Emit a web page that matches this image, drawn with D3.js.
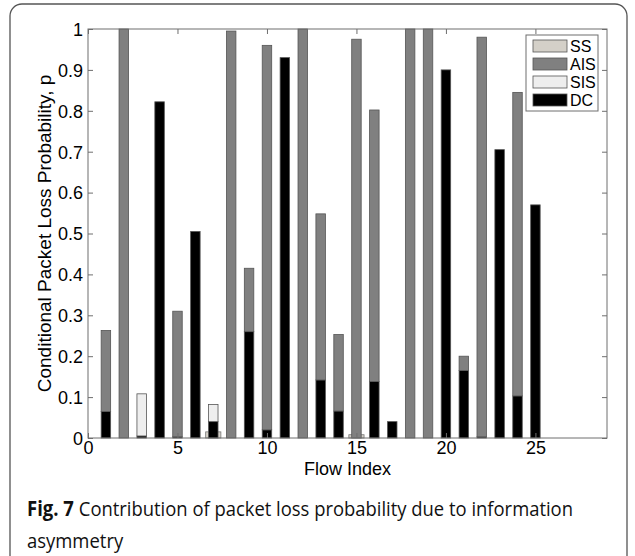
<!DOCTYPE html>
<html><head><meta charset="utf-8">
<script src="https://cdn.jsdelivr.net/npm/d3@7"></script>
<style>body{margin:0;background:#fff}svg{display:block}</style>
</head><body>
<svg id="c" width="635" height="556"></svg>
<script>
const flows = d3.range(1, 26);
const ss  = [0,0,0,0,0,0,0.015,0,0,0,0,0,0,0,0.008,0,0,0,0,0,0,0,0,0,0];
const dc  = [0.065,0,0.005,0.822,0.003,0.505,0.04,0,0.26,0.02,0.93,0,0.142,0.066,0,0.138,0.04,0,0,0.9,0.165,0.003,0.705,0.103,0.57];
const sis = [0,0,0.103,0,0,0,0.042,0,0,0,0,0,0,0,0,0,0,0,0,0,0,0,0,0,0];
const ais = [0.198,1.0,0,0,0.307,0,0,0.995,0.155,0.94,0,1.0,0.406,0.187,0.975,0.664,0,1.0,1.0,0,0.035,0.977,0,0.742,0];
const xTicks = [0,5,10,15,20,25];
const yTicks = [0,0.1,0.2,0.3,0.4,0.5,0.6,0.7,0.8,0.9,1];
const legendNames = ["SS","AIS","SIS","DC"];
const colors = {SS:"#d4d0c8", AIS:"#808080", SIS:"#eeeeee", DC:"#000000"};

const svg = d3.select("#c");
const L = 88, R = 607, T = 29, B = 438;
const x = d3.scaleLinear().domain([0,29]).range([L,R]);
const y = d3.scaleLinear().domain([0,1]).range([B,T]);
const axisCol = "#6e6e6e";
const font = "'Liberation Sans', Arial, sans-serif";

// frame
svg.append("rect").attr("x",10).attr("y",4).attr("width",617).attr("height",570)
  .attr("rx",12).attr("fill","none").attr("stroke","#555").attr("stroke-width",1.3);

const g = svg.append("g");
const unit = x(1)-x(0);
const bw = 0.53*unit, sw = 0.85*unit;

// SS wide bars behind
g.selectAll(".ss").data(flows.filter((f,i)=>ss[i]>0)).join("rect")
  .attr("x",f=>x(f)-sw/2).attr("width",sw)
  .attr("y",f=>y(ss[f-1])).attr("height",f=>y(0)-y(ss[f-1]))
  .attr("fill",colors.SS).attr("stroke","#777").attr("stroke-width",0.8);

const stackData = flows.map((f,i)=>({f, DC:dc[i], SIS:sis[i], AIS:ais[i]}));
const stack = d3.stack().keys(["DC","SIS","AIS"])(stackData);
stack.forEach(layer=>{
  g.selectAll(null).data(layer.filter(d=>d[1]-d[0]>0)).join("rect")
    .attr("x",d=>x(d.data.f)-bw/2).attr("width",bw)
    .attr("y",d=>y(d[1])).attr("height",d=>y(d[0])-y(d[1]))
    .attr("fill",colors[layer.key]).attr("stroke","#555").attr("stroke-width",0.8);
});

// axes box
svg.append("rect").attr("x",L).attr("y",T).attr("width",R-L).attr("height",B-T)
  .attr("fill","none").attr("stroke",axisCol).attr("stroke-width",1);

const tl = 5;
const xb = svg.append("g").attr("transform",`translate(0,${B})`)
  .call(d3.axisBottom(x).tickValues(xTicks).tickSize(-tl).tickFormat(d3.format("d")));
const xt = svg.append("g").attr("transform",`translate(0,${T})`)
  .call(d3.axisTop(x).tickValues(xTicks).tickSize(-tl).tickFormat(""));
const yl = svg.append("g").attr("transform",`translate(${L},0)`)
  .call(d3.axisLeft(y).tickValues(yTicks).tickSize(-tl).tickFormat(d=>d===0?"0":d===1?"1":d3.format(".1f")(d)));
const yr = svg.append("g").attr("transform",`translate(${R},0)`)
  .call(d3.axisRight(y).tickValues(yTicks).tickSize(-tl).tickFormat(""));
[xb,xt,yl,yr].forEach(a=>{
  a.select(".domain").remove();
  a.selectAll("line").attr("stroke",axisCol);
  a.selectAll("text").attr("fill","#000").style("font-family",font).style("font-size","18px");
});
xb.selectAll("text").attr("y",3).attr("dy","0.71em");
yl.selectAll("text").attr("x",-5).attr("dy","0.35em");

svg.append("text").attr("x",(L+R)/2).attr("y",475).attr("text-anchor","middle")
  .style("font-family",font).style("font-size","18px").text("Flow Index");
svg.append("text").attr("transform",`translate(51,${(T+B)/2}) rotate(-90)`).attr("text-anchor","middle")
  .style("font-family",font).style("font-size","19px")
  .text("Conditional Packet Loss Probability, p");

// legend
const lg = svg.append("g");
lg.append("rect").attr("x",526).attr("y",35).attr("width",72).attr("height",76)
  .attr("fill","#fff").attr("stroke",axisCol);
legendNames.forEach((n,i)=>{
  const cy = 46 + i*18;
  lg.append("rect").attr("x",533).attr("y",cy-6).attr("width",34).attr("height",12)
    .attr("fill",colors[n]).attr("stroke","#555").attr("stroke-width",0.8);
  lg.append("text").attr("x",570).attr("y",cy).attr("dy","0.35em")
    .style("font-family",font).style("font-size","16px").text(n);
});

// caption
const capFont = "'Open Sans', sans-serif";
const capFs = "20.5px";
const fig = svg.append("text").attr("x",27).attr("y",516)
  .style("font-family",capFont).style("font-size",capFs).style("font-weight","bold").attr("fill","#111")
  .text("Fig. 7");
const fw = fig.node().getComputedTextLength()*0.9;
fig.attr("textLength",fw).attr("lengthAdjust","spacingAndGlyphs");
const startX = 27 + fw + 5;
svg.append("text").attr("x",startX).attr("y",516)
  .style("font-family",capFont).style("font-size",capFs).attr("fill","#111")
  .text("Contribution of packet loss probability due to information")
  .attr("textLength",573-startX).attr("lengthAdjust","spacingAndGlyphs");
const a2 = svg.append("text").attr("x",27).attr("y",548)
  .style("font-family",capFont).style("font-size",capFs).attr("fill","#111").text("asymmetry");
a2.attr("textLength", a2.node().getComputedTextLength()*0.9).attr("lengthAdjust","spacingAndGlyphs");
</script>
</body></html>
